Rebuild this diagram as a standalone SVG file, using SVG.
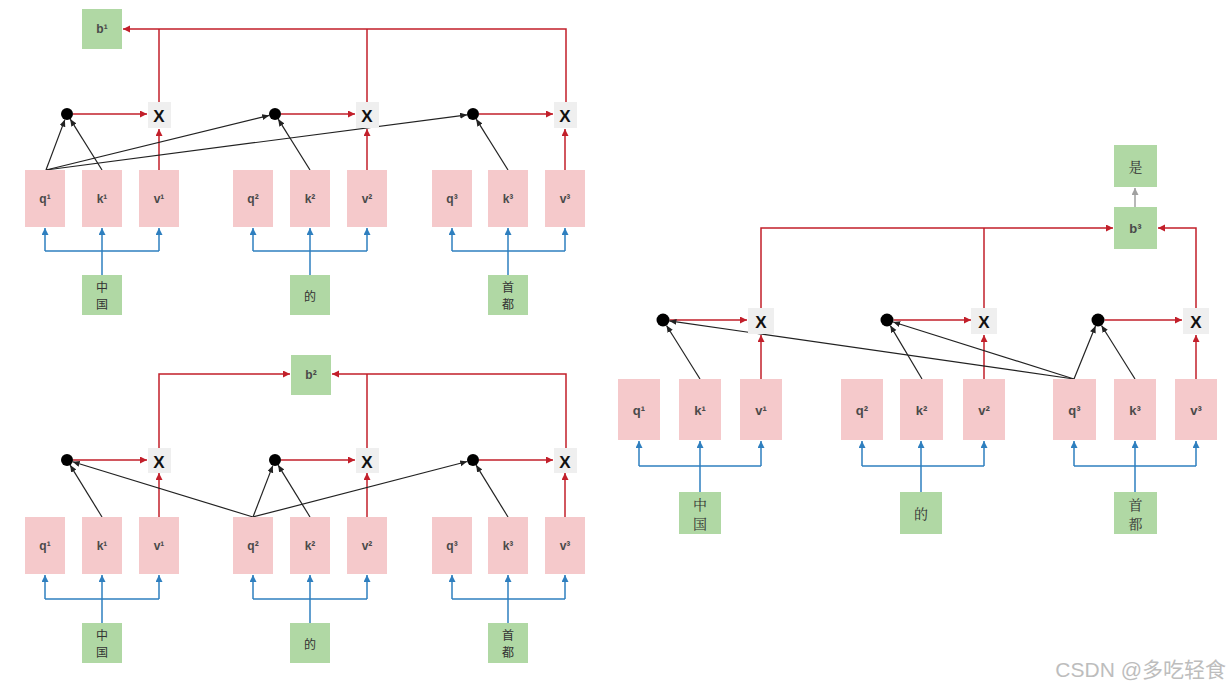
<svg xmlns="http://www.w3.org/2000/svg" width="1232" height="690" viewBox="0 0 1232 690">
<defs>
<marker id="ar" markerUnits="userSpaceOnUse" markerWidth="8" markerHeight="8" refX="7" refY="3.5" orient="auto"><path d="M0,0 L7,3.5 L0,7 z" fill="#c21f2a"/></marker>
<marker id="ak" markerUnits="userSpaceOnUse" markerWidth="8" markerHeight="8" refX="7" refY="3" orient="auto"><path d="M0,0 L7,3 L0,6 z" fill="#222"/></marker>
<marker id="ab" markerUnits="userSpaceOnUse" markerWidth="8" markerHeight="8" refX="7" refY="3.5" orient="auto"><path d="M0,0 L7,3.5 L0,7 z" fill="#2e7fbf"/></marker>
<marker id="ag" markerUnits="userSpaceOnUse" markerWidth="8" markerHeight="8" refX="7" refY="3.5" orient="auto"><path d="M0,0 L7,3.5 L0,7 z" fill="#a0a0a0"/></marker>
</defs>
<style>
.p{fill:#f5c9cb}
.g{fill:#b0d8a4}
.x{fill:#efefef}
.dot{fill:#000}
.t{font-family:"Liberation Sans",Arial,sans-serif;font-size:12px;font-weight:bold;fill:#4a4a4a;text-anchor:middle;dominant-baseline:central}
.tr{font-size:13px}
.tx{font-family:"Liberation Sans",Arial,sans-serif;font-size:17px;font-weight:bold;fill:#111;text-anchor:middle;dominant-baseline:central}
.c{font-family:"Noto Sans CJK SC",sans-serif;font-size:12px;fill:#333;text-anchor:middle;dominant-baseline:central}
.cr{font-family:"Noto Serif CJK SC","Noto Sans CJK SC",serif;font-size:14px}
.r{stroke:#c21f2a;stroke-width:1.5;fill:none}
.k{stroke:#222;stroke-width:1.2;fill:none}
.b{stroke:#2e7fbf;stroke-width:1.5;fill:none}
.gy{stroke:#a0a0a0;stroke-width:1.5;fill:none}
.wm{font-family:"Liberation Sans","Noto Sans CJK SC",sans-serif;font-size:21px;fill:#bdbdbd;text-anchor:end}
</style>

<g id="connectors">
<!-- top-left -->
<g class="r">
<path d="M566,102 V29 H123" marker-end="url(#ar)"/>
<path d="M159,102 V29"/>
<path d="M367,102 V29"/>
<path d="M73,114 H147" marker-end="url(#ar)"/>
<path d="M281,114 H355" marker-end="url(#ar)"/>
<path d="M479,114 H553" marker-end="url(#ar)"/>
<path d="M159,170 V129" marker-end="url(#ar)"/>
<path d="M367,170 V129" marker-end="url(#ar)"/>
<path d="M565,170 V129" marker-end="url(#ar)"/>
</g>
<g class="k">
<path d="M46,170 L64.9,119.6" marker-end="url(#ak)"/>
<path d="M102,170 L70.2,119.1" marker-end="url(#ak)"/>
<path d="M46,170 L269.2,115.4" marker-end="url(#ak)"/>
<path d="M46,170 L467.1,114.8" marker-end="url(#ak)"/>
<path d="M310,170 L278.2,119.1" marker-end="url(#ak)"/>
<path d="M508,170 L476.2,119.1" marker-end="url(#ak)"/>
</g>
<g class="b">
<path d="M45,251 H159"/>
<path d="M253,251 H367"/>
<path d="M452,251 H565"/>
<path d="M45,251 V228" marker-end="url(#ab)"/>
<path d="M102,275 V228" marker-end="url(#ab)"/>
<path d="M159,251 V228" marker-end="url(#ab)"/>
<path d="M253,251 V228" marker-end="url(#ab)"/>
<path d="M310,275 V228" marker-end="url(#ab)"/>
<path d="M367,251 V228" marker-end="url(#ab)"/>
<path d="M452,251 V228" marker-end="url(#ab)"/>
<path d="M508,275 V228" marker-end="url(#ab)"/>
<path d="M565,251 V228" marker-end="url(#ab)"/>
</g>
<!-- bottom-left -->
<g class="r">
<path d="M159,448 V374 H290" marker-end="url(#ar)"/>
<path d="M566,448 V374 H332" marker-end="url(#ar)"/>
<path d="M367,448 V374"/>
<path d="M73,460 H147" marker-end="url(#ar)"/>
<path d="M281,460 H355" marker-end="url(#ar)"/>
<path d="M479,460 H553" marker-end="url(#ar)"/>
<path d="M159,517 V473" marker-end="url(#ar)"/>
<path d="M367,517 V473" marker-end="url(#ar)"/>
<path d="M565,517 V473" marker-end="url(#ar)"/>
</g>
<g class="k">
<path d="M102,517 L70.1,465.1" marker-end="url(#ak)"/>
<path d="M253,517 L72.7,461.8" marker-end="url(#ak)"/>
<path d="M253,517 L272.8,465.6" marker-end="url(#ak)"/>
<path d="M310,517 L278.1,465.1" marker-end="url(#ak)"/>
<path d="M253,517 L467.2,461.5" marker-end="url(#ak)"/>
<path d="M508,517 L476.1,465.1" marker-end="url(#ak)"/>
</g>
<g class="b">
<path d="M45,599 H159"/>
<path d="M253,599 H367"/>
<path d="M452,599 H565"/>
<path d="M45,599 V575" marker-end="url(#ab)"/>
<path d="M102,623 V575" marker-end="url(#ab)"/>
<path d="M159,599 V575" marker-end="url(#ab)"/>
<path d="M253,599 V575" marker-end="url(#ab)"/>
<path d="M310,623 V575" marker-end="url(#ab)"/>
<path d="M367,599 V575" marker-end="url(#ab)"/>
<path d="M452,599 V575" marker-end="url(#ab)"/>
<path d="M508,623 V575" marker-end="url(#ab)"/>
<path d="M565,599 V575" marker-end="url(#ab)"/>
</g>
<!-- right -->
<g class="r">
<path d="M761,308 V228 H1113" marker-end="url(#ar)"/>
<path d="M984,308 V228"/>
<path d="M1196,308 V228 H1158" marker-end="url(#ar)"/>
<path d="M669.5,320 H747" marker-end="url(#ar)"/>
<path d="M893.5,320 H971" marker-end="url(#ar)"/>
<path d="M1104.5,320 H1182" marker-end="url(#ar)"/>
<path d="M761,379 V335" marker-end="url(#ar)"/>
<path d="M984,379 V335" marker-end="url(#ar)"/>
<path d="M1196,379 V335" marker-end="url(#ar)"/>
</g>
<path class="gy" d="M1135,207 V188" marker-end="url(#ag)"/>
<g class="k">
<path d="M700,379 L666.5,325.5" marker-end="url(#ak)"/>
<path d="M1074,379 L669.4,320.9" marker-end="url(#ak)"/>
<path d="M922,379 L890.3,325.6" marker-end="url(#ak)"/>
<path d="M1074,379 L893.2,322" marker-end="url(#ak)"/>
<path d="M1074,379 L1095.5,326" marker-end="url(#ak)"/>
<path d="M1135,379 L1101.5,325.5" marker-end="url(#ak)"/>
</g>
<g class="b">
<path d="M639,466 H761"/>
<path d="M862,466 H984"/>
<path d="M1074,466 H1196"/>
<path d="M639,466 V441" marker-end="url(#ab)"/>
<path d="M700,492 V441" marker-end="url(#ab)"/>
<path d="M761,466 V441" marker-end="url(#ab)"/>
<path d="M862,466 V441" marker-end="url(#ab)"/>
<path d="M921,492 V441" marker-end="url(#ab)"/>
<path d="M984,466 V441" marker-end="url(#ab)"/>
<path d="M1074,466 V441" marker-end="url(#ab)"/>
<path d="M1135,492 V441" marker-end="url(#ab)"/>
<path d="M1196,466 V441" marker-end="url(#ab)"/>
</g>
</g>

<!-- top-left nodes -->
<g id="tl-b1"><rect class="g" x="82" y="9" width="40" height="40"/><text class="t" x="102" y="29">b¹</text></g>
<g id="tl-dot1"><circle class="dot" cx="67" cy="114" r="6"/></g>
<g id="tl-dot2"><circle class="dot" cx="275" cy="114" r="6"/></g>
<g id="tl-dot3"><circle class="dot" cx="473" cy="114" r="6"/></g>
<g id="tl-x1"><rect class="x" x="148" y="102" width="23" height="26"/><text class="tx" x="159" y="116">X</text></g>
<g id="tl-x2"><rect class="x" x="356" y="102" width="23" height="26"/><text class="tx" x="367" y="116">X</text></g>
<g id="tl-x3"><rect class="x" x="554" y="102" width="23" height="26"/><text class="tx" x="565" y="116">X</text></g>
<g id="tl-q1"><rect class="p" x="25" y="170" width="40" height="57"/><text class="t" x="45" y="199">q¹</text></g>
<g id="tl-k1"><rect class="p" x="82" y="170" width="40" height="57"/><text class="t" x="102" y="199">k¹</text></g>
<g id="tl-v1"><rect class="p" x="139" y="170" width="40" height="57"/><text class="t" x="159" y="199">v¹</text></g>
<g id="tl-q2"><rect class="p" x="233" y="170" width="40" height="57"/><text class="t" x="253" y="199">q²</text></g>
<g id="tl-k2"><rect class="p" x="290" y="170" width="40" height="57"/><text class="t" x="310" y="199">k²</text></g>
<g id="tl-v2"><rect class="p" x="347" y="170" width="40" height="57"/><text class="t" x="367" y="199">v²</text></g>
<g id="tl-q3"><rect class="p" x="432" y="170" width="40" height="57"/><text class="t" x="452" y="199">q³</text></g>
<g id="tl-k3"><rect class="p" x="488" y="170" width="40" height="57"/><text class="t" x="508" y="199">k³</text></g>
<g id="tl-v3"><rect class="p" x="545" y="170" width="40" height="57"/><text class="t" x="565" y="199">v³</text></g>
<g id="tl-w1"><rect class="g" x="82" y="275" width="40" height="40"/><text class="c" x="102" y="286">中</text><text class="c" x="102" y="303">国</text></g>
<g id="tl-w2"><rect class="g" x="290" y="275" width="40" height="40"/><text class="c" x="310" y="295">的</text></g>
<g id="tl-w3"><rect class="g" x="488" y="275" width="40" height="40"/><text class="c" x="508" y="286">首</text><text class="c" x="508" y="303">都</text></g>

<!-- bottom-left nodes -->
<g id="bl-b2"><rect class="g" x="291" y="355" width="40" height="40"/><text class="t" x="311" y="375">b²</text></g>
<g id="bl-dot1"><circle class="dot" cx="67" cy="460" r="6"/></g>
<g id="bl-dot2"><circle class="dot" cx="275" cy="460" r="6"/></g>
<g id="bl-dot3"><circle class="dot" cx="473" cy="460" r="6"/></g>
<g id="bl-x1"><rect class="x" x="148" y="448" width="23" height="25"/><text class="tx" x="159" y="462">X</text></g>
<g id="bl-x2"><rect class="x" x="356" y="448" width="23" height="25"/><text class="tx" x="367" y="462">X</text></g>
<g id="bl-x3"><rect class="x" x="554" y="448" width="23" height="25"/><text class="tx" x="565" y="462">X</text></g>
<g id="bl-q1"><rect class="p" x="25" y="517" width="40" height="57"/><text class="t" x="45" y="546">q¹</text></g>
<g id="bl-k1"><rect class="p" x="82" y="517" width="40" height="57"/><text class="t" x="102" y="546">k¹</text></g>
<g id="bl-v1"><rect class="p" x="139" y="517" width="40" height="57"/><text class="t" x="159" y="546">v¹</text></g>
<g id="bl-q2"><rect class="p" x="233" y="517" width="40" height="57"/><text class="t" x="253" y="546">q²</text></g>
<g id="bl-k2"><rect class="p" x="290" y="517" width="40" height="57"/><text class="t" x="310" y="546">k²</text></g>
<g id="bl-v2"><rect class="p" x="347" y="517" width="40" height="57"/><text class="t" x="367" y="546">v²</text></g>
<g id="bl-q3"><rect class="p" x="432" y="517" width="40" height="57"/><text class="t" x="452" y="546">q³</text></g>
<g id="bl-k3"><rect class="p" x="488" y="517" width="40" height="57"/><text class="t" x="508" y="546">k³</text></g>
<g id="bl-v3"><rect class="p" x="545" y="517" width="40" height="57"/><text class="t" x="565" y="546">v³</text></g>
<g id="bl-w1"><rect class="g" x="82" y="623" width="40" height="40"/><text class="c" x="102" y="634">中</text><text class="c" x="102" y="651">国</text></g>
<g id="bl-w2"><rect class="g" x="290" y="623" width="40" height="40"/><text class="c" x="310" y="643">的</text></g>
<g id="bl-w3"><rect class="g" x="488" y="623" width="40" height="40"/><text class="c" x="508" y="634">首</text><text class="c" x="508" y="651">都</text></g>

<!-- right nodes -->
<g id="r-shi"><rect class="g" x="1114" y="145" width="43" height="42"/><text class="c cr" x="1135.5" y="166">是</text></g>
<g id="r-b3"><rect class="g" x="1114" y="207" width="43" height="42"/><text class="t tr" x="1135.5" y="228">b³</text></g>
<g id="r-dot1"><circle class="dot" cx="663" cy="320" r="6.5"/></g>
<g id="r-dot2"><circle class="dot" cx="887" cy="320" r="6.5"/></g>
<g id="r-dot3"><circle class="dot" cx="1098" cy="320" r="6.5"/></g>
<g id="r-x1"><rect class="x" x="748" y="308" width="26" height="26"/><text class="tx" x="761" y="322">X</text></g>
<g id="r-x2"><rect class="x" x="971" y="308" width="26" height="26"/><text class="tx" x="984" y="322">X</text></g>
<g id="r-x3"><rect class="x" x="1183" y="308" width="26" height="26"/><text class="tx" x="1196" y="322">X</text></g>
<g id="r-q1"><rect class="p" x="618" y="379" width="42" height="61"/><text class="t tr" x="639" y="410">q¹</text></g>
<g id="r-k1"><rect class="p" x="679" y="379" width="42" height="61"/><text class="t tr" x="700" y="410">k¹</text></g>
<g id="r-v1"><rect class="p" x="740" y="379" width="42" height="61"/><text class="t tr" x="761" y="410">v¹</text></g>
<g id="r-q2"><rect class="p" x="841" y="379" width="42" height="61"/><text class="t tr" x="862" y="410">q²</text></g>
<g id="r-k2"><rect class="p" x="900" y="379" width="43" height="61"/><text class="t tr" x="921.5" y="410">k²</text></g>
<g id="r-v2"><rect class="p" x="963" y="379" width="42" height="61"/><text class="t tr" x="984" y="410">v²</text></g>
<g id="r-q3"><rect class="p" x="1053" y="379" width="43" height="61"/><text class="t tr" x="1074.5" y="410">q³</text></g>
<g id="r-k3"><rect class="p" x="1114" y="379" width="42" height="61"/><text class="t tr" x="1135" y="410">k³</text></g>
<g id="r-v3"><rect class="p" x="1175" y="379" width="42" height="61"/><text class="t tr" x="1196" y="410">v³</text></g>
<g id="r-w1"><rect class="g" x="679" y="492" width="42" height="42"/><text class="c cr" x="700" y="504">中</text><text class="c cr" x="700" y="523">国</text></g>
<g id="r-w2"><rect class="g" x="900" y="492" width="42" height="42"/><text class="c cr" x="921" y="513">的</text></g>
<g id="r-w3"><rect class="g" x="1114" y="492" width="43" height="42"/><text class="c cr" x="1135.5" y="504">首</text><text class="c cr" x="1135.5" y="523">都</text></g>

<text class="wm" x="1226" y="677">CSDN @多吃轻食</text>
</svg>
